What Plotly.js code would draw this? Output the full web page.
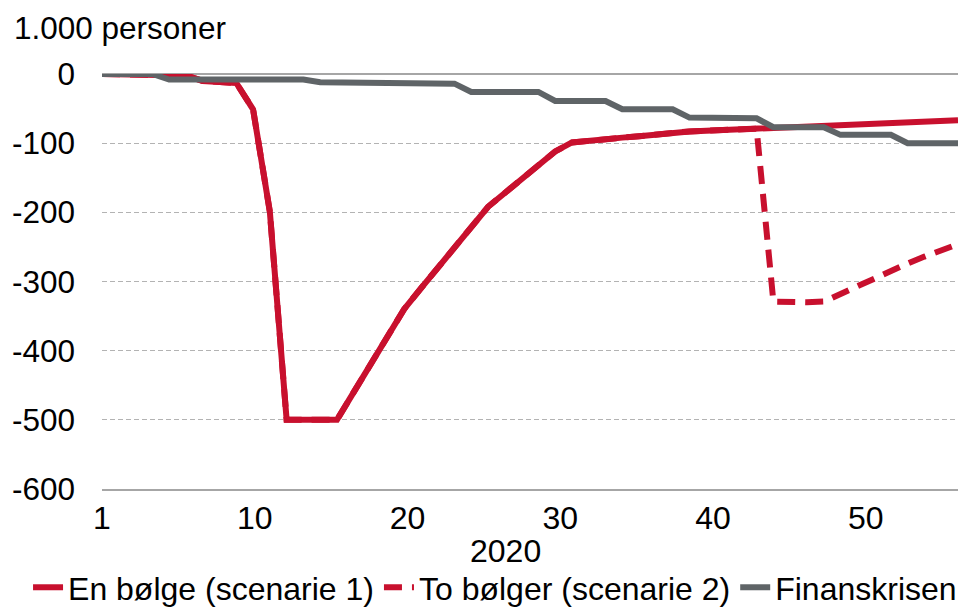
<!DOCTYPE html>
<html>
<head>
<meta charset="utf-8">
<script src="https://cdn.plot.ly/plotly-3.0.1.min.js"></script>
<style>
  html, body { margin: 0; padding: 0; background: #fff; }
  #chart { width: 972px; height: 610px; }
</style>
</head>
<body>
<div id="chart"></div>
<script>
// Weeks of 2020
const weeks = [1,2,3,4,5,6,7,8,9,10,11,12,13,14,15,16,17,18,19,20,21,22,23,24,25,26,
               27,28,29,30,31,32,33,34,35,36,37,38,39,40,41,42,43,44,45,46,47,48,49,50,51,52];

// En bølge (scenarie 1), 1.000 personer
const scenario1 = [0,0,0,0,0,-2,-10,-11,-13,-51,-199,-500,-500,-500,-500,-460,-420,-380,-340,-310,
                   -280,-250,-220,-192,-172,-152,-132,-112,-99,-96,-94,-92,-90,-87,-85,-83,-82,-81,-80,-79,
                   -78,-77,-76,-75,-74,-73,-72,-71,-70,-69,-68,-67];

// To bølger (scenarie 2), 1.000 personer
const scenario2 = [0,0,0,0,0,-2,-10,-11,-13,-51,-199,-500,-500,-500,-500,-460,-420,-380,-340,-310,
                   -280,-250,-220,-192,-172,-152,-132,-112,-99,-96,-94,-92,-90,-87,-85,-83,-82,-81,-80,-79,
                   -329,-330,-330,-329,-318,-305,-294,-283,-274,-264,-255,-246];

// Finanskrisen, 1.000 personer
const finanskrisen = [0,0,0,0,-8,-8,-8,-8,-8,-8,-8,-8,-8,-12,-12,-12,-13,-13,-14,-14,
                      -14,-14,-26,-26,-26,-26,-26,-39,-39,-39,-39,-51,-51,-51,-51,-63,-63,-63,-63,-64,
                      -77,-77,-77,-77,-88,-88,-88,-88,-100,-100,-100,-100];

const seriesNames = ['En bølge (scenarie 1)', 'To bølger (scenarie 2)', 'Finanskrisen'];

// x tick labels as printed under the axis, and where they sit (in weeks)
const xTickText = ['1','10','20','30','40','50'];
const xTickVals = [1, 10.1, 19.2, 28.3, 37.4, 46.5];

// y tick labels (printed with a plain hyphen)
const yTickVals = [0,-100,-200,-300,-400,-500,-600];
const yTickText = ['0','-100','-200','-300','-400','-500','-600'];

const red = 'rgb(200,16,46)';
const grey = 'rgb(95,100,103)';
const font = 'Liberation Sans, Arial, sans-serif';

const traces = [
  { x: weeks, y: scenario1, name: seriesNames[0], type: 'scatter', mode: 'lines',
    line: { color: red, width: 6 } },
  { x: weeks, y: scenario2, name: seriesNames[1], type: 'scatter', mode: 'lines',
    line: { color: red, width: 6, dash: '18px,10px' } },
  { x: weeks, y: finanskrisen, name: seriesNames[2], type: 'scatter', mode: 'lines',
    line: { color: grey, width: 6 } }
];

const layout = {
  width: 972, height: 610,
  margin: { l: 102, r: 14, t: 74, b: 121, autoexpand: false },
  paper_bgcolor: '#fff', plot_bgcolor: '#fff',
  font: { family: font, size: 31.5, color: '#000' },
  showlegend: true,
  legend: { orientation: 'h', x: -0.0864, xanchor: 'left', y: -0.171, yanchor: 'top',
            font: { size: 32, color: '#000' }, itemwidth: 30, tracegroupgap: 0,
            bgcolor: 'rgba(0,0,0,0)' },
  xaxis: {
    range: [1, 52], tickvals: xTickVals, ticktext: xTickText, ticks: '',
    showgrid: false, zeroline: false, showline: true, linecolor: '#a6a6a6', linewidth: 1.5,
    tickfont: { size: 32, color: '#000' }, automargin: false, fixedrange: true
  },
  yaxis: {
    range: [-600, 0], tickvals: yTickVals, ticktext: yTickText, ticks: '',
    showgrid: true, gridcolor: '#b3b3b3', gridwidth: 1, griddash: '5px,3px',
    zeroline: true, zerolinecolor: '#a6a6a6', zerolinewidth: 1.5,
    showline: false, tickfont: { size: 31.5, color: '#000' }, ticklabelstandoff: 26,
    automargin: false, fixedrange: true
  },
  annotations: [
    { text: '1.000 personer', xref: 'paper', yref: 'paper', x: -0.105, y: 1.111,
      xanchor: 'left', yanchor: 'middle', showarrow: false, font: { size: 31.5, color: '#000' } },
    { text: '2020', xref: 'paper', yref: 'paper', x: 0.471, y: -0.15,
      xanchor: 'center', yanchor: 'middle', showarrow: false, font: { size: 32, color: '#000' } }
  ]
};

Plotly.newPlot('chart', traces, layout, { displayModeBar: false, staticPlot: true });
</script>
</body>
</html>
